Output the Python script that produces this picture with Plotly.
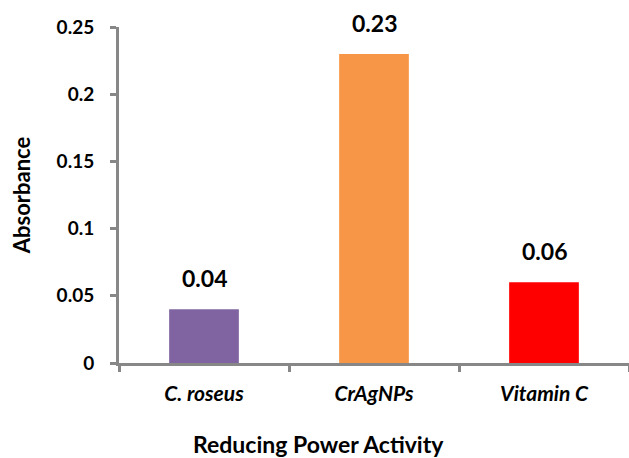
import plotly.graph_objects as go

categories = ["C. roseus", "CrAgNPs", "Vitamin C"]
values = [0.04, 0.23, 0.06]
labels = ["0.04", "0.23", "0.06"]
colors = ["#8064A2", "#F79646", "#FF0000"]
ytick_vals = [0, 0.05, 0.1, 0.15, 0.2, 0.25]
ytick_text = ["0", "0.05", "0.1", "0.15", "0.2", "0.25"]

FONT = "Lato, 'Open Sans', sans-serif"

fig = go.Figure()
fig.add_trace(go.Bar(
    x=categories, y=values, marker=dict(color=colors, line=dict(width=0)),
    width=0.41, showlegend=False, hoverinfo="skip",
))

for c, v, t in zip(categories, values, labels):
    fig.add_annotation(x=c, y=v, text="<b>%s</b>" % t, showarrow=False,
                       yanchor="bottom", yshift=15,
                       font=dict(family=FONT, size=23, color="black"))

fig.add_annotation(
    text="<b>Reducing Power Activity</b>", xref="paper", yref="paper",
    x=(318 - 119) / 510, y=-(444 - 363) / 336, xanchor="center", yanchor="middle",
    showarrow=False, font=dict(family=FONT, size=23, color="black"))

fig.update_layout(
    width=629, height=458,
    margin=dict(l=119, r=0, t=27, b=95),
    paper_bgcolor="white", plot_bgcolor="white",
    font=dict(family=FONT, color="black"),
)

fig.update_xaxes(
    type="category", range=[-0.5, 2.5],
    showline=True, linecolor="#878787", linewidth=3,
    ticks="outside", tickson="boundaries", ticklen=6, tickwidth=3, tickcolor="#878787",
    tickvals=categories,
    ticktext=["<b><i>%s</i></b>" % c for c in categories],
    tickfont=dict(family=FONT, size=21, color="black"),
    ticklabelstandoff=10,
    showgrid=False, zeroline=False, fixedrange=True,
)
fig.update_yaxes(
    range=[0, 0.25],
    showline=True, linecolor="#878787", linewidth=3,
    ticks="outside", ticklen=6, tickwidth=3, tickcolor="#878787",
    tickvals=ytick_vals, ticktext=["<b>%s</b>" % t for t in ytick_text],
    tickfont=dict(family=FONT, size=19, color="black"),
    ticklabelstandoff=12,
    title=dict(text="<b>Absorbance</b>", font=dict(family=FONT, size=22, color="black"), standoff=20),
    showgrid=False, zeroline=False, fixedrange=True,
)

fig.write_html("out.html")
